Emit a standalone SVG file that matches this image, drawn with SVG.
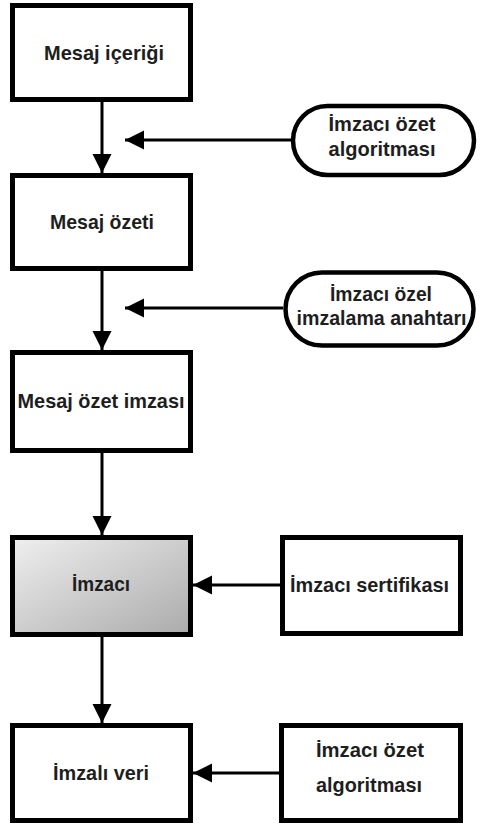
<svg xmlns="http://www.w3.org/2000/svg" width="480" height="832" viewBox="0 0 480 832">
  <style>
    .box { fill: #ffffff; stroke: #000000; stroke-width: 5; }
    .pill { fill: #ffffff; stroke: #000000; stroke-width: 4.5; }
    .lbl { font-family: "Liberation Sans", Arial, sans-serif; font-weight: bold; font-size: 21px; fill: #1e1e1e; text-anchor: middle; }
    .wire { fill: none; stroke: #000000; stroke-width: 3; }
  </style>
  <defs>
    <marker id="head" markerUnits="userSpaceOnUse" markerWidth="20" markerHeight="20" refX="19" refY="10" orient="auto">
      <path d="M0,0.5 L19,10 L0,19.5 Z" fill="#000000"/>
    </marker>
    <linearGradient id="signerFill" x1="0" y1="0" x2="1" y2="1">
      <stop offset="0" stop-color="#efefef"/>
      <stop offset="1" stop-color="#ababab"/>
    </linearGradient>
  </defs>

  <rect width="480" height="832" fill="#ffffff"/>

  <!-- connectors -->
  <g id="connectors">
    <line class="wire" x1="102" y1="102" x2="102" y2="173" marker-end="url(#head)"/>
    <line class="wire" x1="291" y1="140" x2="125" y2="140" marker-end="url(#head)"/>
    <line class="wire" x1="102" y1="271" x2="102" y2="350" marker-end="url(#head)"/>
    <line class="wire" x1="283" y1="308" x2="125" y2="308" marker-end="url(#head)"/>
    <line class="wire" x1="102" y1="453" x2="102" y2="535" marker-end="url(#head)"/>
    <line class="wire" x1="280" y1="585" x2="193" y2="585" marker-end="url(#head)"/>
    <line class="wire" x1="102" y1="637" x2="102" y2="723" marker-end="url(#head)"/>
    <line class="wire" x1="279" y1="773" x2="193" y2="773" marker-end="url(#head)"/>
  </g>

  <!-- left column -->
  <g id="mesaj-icerigi">
    <rect class="box" x="12.5" y="5.5" width="178" height="94"/>
    <text class="lbl" x="104" y="59.5" textLength="120" lengthAdjust="spacingAndGlyphs">Mesaj içeriği</text>
  </g>

  <g id="mesaj-ozeti">
    <rect class="box" x="12.5" y="175.5" width="178" height="93"/>
    <text class="lbl" x="102" y="229" textLength="104" lengthAdjust="spacingAndGlyphs">Mesaj özeti</text>
  </g>

  <g id="mesaj-ozet-imzasi">
    <rect class="box" x="12.5" y="352.5" width="178" height="98"/>
    <text class="lbl" x="101" y="408" textLength="167" lengthAdjust="spacingAndGlyphs">Mesaj özet imzası</text>
  </g>

  <g id="imzaci">
    <rect class="box" x="12.5" y="537.5" width="178" height="97" style="fill:url(#signerFill)"/>
    <text class="lbl" x="101" y="591" textLength="58" lengthAdjust="spacingAndGlyphs">İmzacı</text>
  </g>

  <g id="imzali-veri">
    <rect class="box" x="12.5" y="725.5" width="178" height="95"/>
    <text class="lbl" x="101" y="780" textLength="96" lengthAdjust="spacingAndGlyphs">İmzalı veri</text>
  </g>

  <!-- right column -->
  <g id="ozet-algoritmasi-1">
    <rect class="pill" x="293" y="106" width="181" height="69" rx="34.5" ry="34.5"/>
    <text class="lbl" x="382" y="131" textLength="107" lengthAdjust="spacingAndGlyphs">İmzacı özet</text>
    <text class="lbl" x="382" y="156" textLength="107" lengthAdjust="spacingAndGlyphs">algoritması</text>
  </g>

  <g id="ozel-anahtar">
    <rect class="pill" x="285.5" y="272.5" width="188" height="73" rx="36.5" ry="36.5"/>
    <text class="lbl" x="381" y="301" textLength="102" lengthAdjust="spacingAndGlyphs">İmzacı özel</text>
    <text class="lbl" x="381.5" y="325" textLength="170" lengthAdjust="spacingAndGlyphs">imzalama anahtarı</text>
  </g>

  <g id="imzaci-sertifikasi">
    <rect class="box" x="282.5" y="537.5" width="178" height="96"/>
    <text class="lbl" x="369.5" y="592" textLength="159" lengthAdjust="spacingAndGlyphs">İmzacı sertifikası</text>
  </g>

  <g id="ozet-algoritmasi-2">
    <rect class="box" x="281.5" y="725.5" width="179" height="95"/>
    <text class="lbl" x="370" y="757" textLength="108" lengthAdjust="spacingAndGlyphs">İmzacı özet</text>
    <text class="lbl" x="369" y="792" textLength="106" lengthAdjust="spacingAndGlyphs">algoritması</text>
  </g>
</svg>
